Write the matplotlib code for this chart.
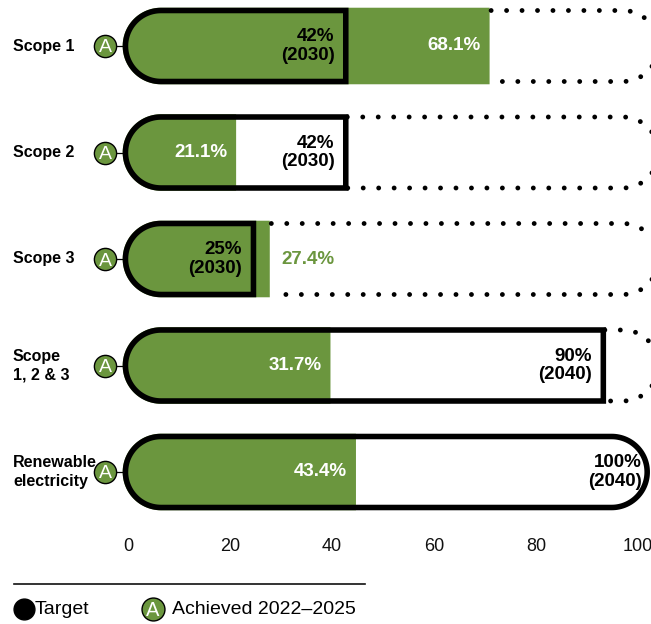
import matplotlib
matplotlib.use("Agg")
import matplotlib.pyplot as plt
from matplotlib.path import Path
from matplotlib.patches import PathPatch
from matplotlib.lines import Line2D
import matplotlib.transforms as mtransforms
import numpy as np

# ---------------- data ----------------
categories = ["Scope 1", "Scope 2", "Scope 3", "Scope\n1, 2 & 3", "Renewable\nelectricity"]
achieved = [70.9, 21.2, 27.8, 39.7, 44.7]          # drawn bar ends (as read)
achieved_labels = ["68.1%", "21.1%", "27.4%", "31.7%", "43.4%"]
targets = [42.7, 42.7, 24.6, 93.2, 101.8]          # drawn target outline ends
target_labels = ["42%\n(2030)", "42%\n(2030)", "25%\n(2030)", "90%\n(2040)", "100%\n(2040)"]
full_target = [False, False, False, False, True]
track_end = 104
ticks = [0, 20, 40, 60, 80, 100]
legend_labels = ["Target", "Achieved 2022\u20132025"]

GREEN = "#6B963E"
BLACK = "#000000"
FONT = "Liberation Sans"

W, H, DPI = 651, 624, 100
fig = plt.figure(figsize=(W / DPI, H / DPI), dpi=DPI)
bottom_px = 535
ax = fig.add_axes([0, (H - bottom_px) / H, 1, bottom_px / H])
px_x = 5.1          # px per x unit
px_row = 106.5      # px per row
top_center = 46
ax.set_xlim(-128 / px_x, (W - 128) / px_x)
ax.set_ylim((bottom_px - top_center) / px_row, -top_center / px_row)
for s in ax.spines.values():
    s.set_visible(False)
ax.set_yticks([])
ax.set_xticks(ticks)
ax.set_xticklabels([str(t) for t in ticks], fontsize=13, family=FONT, color="#111111")
ax.tick_params(axis="x", length=0, pad=2.5)

R_px = 35.5                       # outline half-height (line centre)
LW = 4.0                          # outline width (pt)
lw_px = LW * DPI / 72
x_start = -0.5                    # left extremity of outline centre line


def shape_path(x_left_ext, x_right, yc, rad_px, rad_ref_px, right_round=False, x_right_ext=None):
    """Left-rounded bar; the arc centre stays at the outline arc centre."""
    rx_ref = rad_ref_px / px_x
    cxl = x_left_ext + rx_ref
    rx = rad_px / px_x
    ry = rad_px / px_row
    pts = [(cxl, yc - ry)]
    if right_round:
        cxr = x_right_ext - rx_ref
        pts.append((cxr, yc - ry))
        for t in np.linspace(-np.pi / 2, np.pi / 2, 60):
            pts.append((cxr + rx * np.cos(t), yc + ry * np.sin(t)))
    else:
        pts.append((x_right, yc - ry))
        pts.append((x_right, yc + ry))
    pts.append((cxl, yc + ry))
    for t in np.linspace(np.pi / 2, 3 * np.pi / 2, 60):
        pts.append((cxl + rx * np.cos(t), yc + ry * np.sin(t)))
    pts.append(pts[0])
    codes = [Path.MOVETO] + [Path.LINETO] * (len(pts) - 2) + [Path.CLOSEPOLY]
    return Path(pts, codes)


for i, (cat, a, t) in enumerate(zip(categories, achieved, targets)):
    full = full_target[i]
    outer = R_px + lw_px / 2
    # white background of target shape
    tp = shape_path(x_start, t, i, R_px, R_px, right_round=full, x_right_ext=t)
    ax.add_patch(PathPatch(tp, facecolor="white", edgecolor="none", zorder=1))
    # green achieved bar
    gp = shape_path(x_start, a, i, outer, R_px)
    ax.add_patch(PathPatch(gp, facecolor=GREEN, edgecolor="none", zorder=2))
    # target outline
    ax.add_patch(PathPatch(tp, facecolor="none", edgecolor=BLACK, lw=LW,
                           joinstyle="miter", zorder=3))
    # dotted remainder of track
    if not full:
        start = max(a, t) + 0.3
        rx = R_px / px_x
        ry = R_px / px_row
        cxr = track_end - rx
        th = np.linspace(-np.pi / 2, np.pi / 2, 80)
        xs = np.concatenate([[start, cxr], cxr + rx * np.cos(th), [cxr, start]])
        ys = np.concatenate([[i - ry, i - ry], i + ry * np.sin(th), [i + ry, i + ry]])
        ax.plot(xs, ys, color=BLACK, lw=3.5, linestyle=(0, (0.001, 3.18)),
                dash_capstyle="round", zorder=3)

    # achieved label
    if a > t and a - t < 8:
        ax.annotate(achieved_labels[i], (a, i), xytext=(8.5, 0), textcoords="offset points",
                    ha="left", va="center", fontsize=13.5, fontweight="bold",
                    family=FONT, color=GREEN, zorder=5)
    else:
        ax.annotate(achieved_labels[i], (a, i), xytext=(-6.5, 0), textcoords="offset points",
                    ha="right", va="center", fontsize=13.5, fontweight="bold",
                    family=FONT, color="white", zorder=5)
    # target label
    off = -4.0 if full else -8
    ax.annotate(target_labels[i], (t, i), xytext=(off, 0), textcoords="offset points",
                ha="right", va="center", fontsize=13.5, fontweight="bold",
                family=FONT, color=BLACK, linespacing=1.15, zorder=5)

    # category label
    trans = mtransforms.blended_transform_factory(fig.transFigure, ax.transData)
    ax.text(13 / W, i, cat, transform=trans, ha="left", va="center", fontsize=11.5,
            fontweight="bold", family=FONT, color=BLACK, linespacing=1.3)

    # "A" badge with connector
    cx = -23 / px_x
    ax.plot([cx, x_start], [i, i], color=BLACK, lw=0.9, zorder=3)
    ax.plot([cx], [i], marker="o", ms=16, mfc=GREEN, mec=BLACK, mew=1.0, zorder=4)
    ax.text(cx, i, "A", ha="center", va="center_baseline", fontsize=14,
            family=FONT, color="white", zorder=5)

# ---------------- legend ----------------
fig.add_artist(Line2D([14 / W, 365 / W], [1 - 584 / H, 1 - 584 / H],
                      transform=fig.transFigure, color="#111111", lw=1.2))
ly = 1 - 609 / H
fig.add_artist(Line2D([24 / W], [ly], transform=fig.transFigure, marker="o", ms=15,
                      mfc=BLACK, mec=BLACK, ls="none"))
fig.text(35 / W, ly, legend_labels[0], ha="left", va="center", fontsize=14,
         family=FONT, color=BLACK)
fig.add_artist(Line2D([153 / W], [ly], transform=fig.transFigure, marker="o", ms=16.5,
                      mfc=GREEN, mec=BLACK, mew=1.0, ls="none"))
fig.text(153 / W, ly, "A", ha="center", va="center_baseline", fontsize=14.5,
         family=FONT, color="white")
fig.text(172 / W, ly, legend_labels[1], ha="left", va="center", fontsize=14,
         family=FONT, color=BLACK)

fig.savefig("out.png", dpi=DPI)
